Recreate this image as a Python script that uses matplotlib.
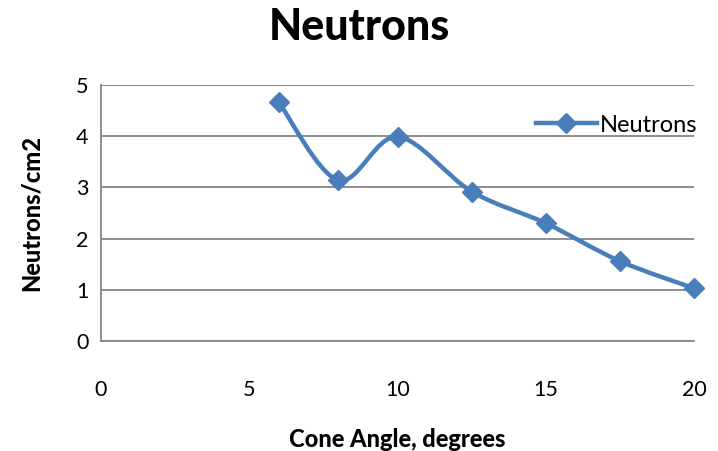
import matplotlib.pyplot as plt
import numpy as np
from matplotlib.path import Path
from matplotlib.patches import PathPatch
from matplotlib.lines import Line2D

plt.rcParams['font.family'] = ['Lato', 'DejaVu Sans']

# angulo del cono (grados) y flujo de neutrones
angulo = [6, 8, 10, 12.5, 15, 17.5, 20]
neutrones = [4.66, 3.14, 3.99, 2.92, 2.30, 1.56, 1.03]

azul = '#4A7EBB'
gris = '#868686'

fig = plt.figure(figsize=(7.18, 4.51), dpi=100)
ax = fig.add_axes([0.1407, 0.2439, 0.8259, 0.5676])

# curva suavizada tipo Excel: bezier cubica entre puntos consecutivos
x = np.array(angulo, dtype=float)
y = np.array(neutrones, dtype=float)
n = len(x)
verts = [(x[0], y[0])]
codes = [Path.MOVETO]
for i in range(n - 1):
    x0, y0 = (x[i - 1], y[i - 1]) if i > 0 else (x[i], y[i])
    x3, y3 = (x[i + 2], y[i + 2]) if i + 2 < n else (x[i + 1], y[i + 1])
    c1 = (x[i] + (x[i + 1] - x0) / 6, y[i] + (y[i + 1] - y0) / 6)
    c2 = (x[i + 1] - (x3 - x[i]) / 6, y[i + 1] - (y3 - y[i]) / 6)
    verts += [c1, c2, (x[i + 1], y[i + 1])]
    codes += [Path.CURVE4] * 3
ax.add_patch(PathPatch(Path(verts, codes), facecolor='none', edgecolor=azul,
                       lw=3.2, capstyle='round', joinstyle='round', zorder=3))
ax.plot(angulo, neutrones, ls='none', marker='D', ms=10, color=azul,
        clip_on=False, zorder=4)

ax.set_xlim(0, 20)
ax.set_ylim(0, 5)
ax.set_xticks([0, 5, 10, 15, 20])
ax.set_yticks([0, 1, 2, 3, 4, 5])
ax.tick_params(length=0, labelsize=15.5, pad=9)
ax.tick_params(axis='x', pad=28)
ax.grid(axis='y', color=gris, lw=1.3)
ax.set_axisbelow(True)
for s in ['top', 'right']:
    ax.spines[s].set_visible(False)
for s in ['left', 'bottom']:
    ax.spines[s].set_color(gris)
    ax.spines[s].set_linewidth(1.3)

ax.set_xlabel('Cone Angle, degrees', fontsize=17, fontweight='black', labelpad=20)
ax.set_ylabel('Neutrons/cm2', fontsize=17, fontweight='black', labelpad=24)
fig.suptitle('Neutrons', fontsize=31, fontweight='black', y=0.985)

handle = Line2D([], [], color=azul, lw=3.2, marker='D', ms=10)
ax.legend([handle], ['Neutrons'], loc='upper right', bbox_to_anchor=(1.025, 0.93),
          frameon=False, fontsize=17, handlelength=2.6, handletextpad=0.1,
          borderpad=0)

fig.savefig('out.png', dpi=100)
